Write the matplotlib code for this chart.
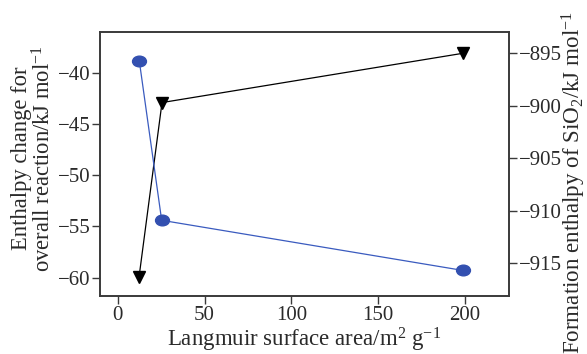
import matplotlib
matplotlib.use("Agg")
import matplotlib.pyplot as plt
from matplotlib.path import Path
from matplotlib.transforms import Affine2D

plt.rcParams['font.family'] = ['Liberation Serif', 'DejaVu Serif']
plt.rcParams['mathtext.fontset'] = 'custom'
plt.rcParams['mathtext.rm'] = 'Liberation Serif'
plt.rcParams['mathtext.it'] = 'Liberation Serif:italic'
plt.rcParams['axes.unicode_minus'] = True

# data
surface_area = [12.4, 25.3, 198.8]
reaction_enthalpy = [-38.8, -54.4, -59.3]
formation_area = [12.3, 25.5, 198.8]
formation_enthalpy = [-916.3, -899.7, -895.0]

xticks = [0, 50, 100, 150, 200]
left_ticks = [-40, -45, -50, -55, -60]
right_ticks = [-895, -900, -905, -910, -915]

spine_col = '#3a3a3a'
text_col = '#2a2a2a'
blue = '#3a5bbf'

fig = plt.figure(figsize=(5.87, 3.54), dpi=100)
ax = fig.add_axes([0.1704, 0.1638, 0.6966, 0.7458])
ax2 = ax.twinx()

ellipse = Path.unit_circle().transformed(Affine2D().scale(1.3, 1.0))

ax2.plot(formation_area, formation_enthalpy, color='black', lw=0.9,
         marker='v', markersize=8, zorder=2)
ax.plot(surface_area, reaction_enthalpy, color=blue, lw=0.9,
        marker=ellipse, markersize=10, markerfacecolor='#3350b0',
        markeredgecolor='#3350b0', zorder=3)
ax.set_zorder(ax2.get_zorder() + 1)
ax.patch.set_visible(False)

ax.set_xlim(-10.2, 225.3)
ax.set_ylim(-61.8, -36.0)
ax2.set_ylim(-918.15, -892.97)

ax.set_xticks(xticks)
ax.set_yticks(left_ticks)
ax2.set_yticks(right_ticks)

fs_tick = 15
for a in (ax, ax2):
    for s in a.spines.values():
        s.set_color(spine_col)
        s.set_linewidth(1.2)
    a.tick_params(direction='out', length=6, width=1.0, color=spine_col,
                  labelsize=fs_tick, labelcolor=text_col, pad=1)

ax.set_xlabel('Langmuir surface area/m$^{2}$ g$^{-1}$', fontsize=16.5, color=text_col, labelpad=0.5)
ax.set_ylabel('Enthalpy change for\noverall reaction/kJ mol$^{-1}$', fontsize=16.3,
              color=text_col, linespacing=1.05)
ax.yaxis.set_label_coords(-0.108, 0.52)
ax2.set_ylabel('Formation enthalpy of SiO$_{2}$/kJ mol$^{-1}$', fontsize=16.6, color=text_col)
ax2.yaxis.set_label_coords(1.125, 0.43)

fig.savefig('out.png', dpi=100)
